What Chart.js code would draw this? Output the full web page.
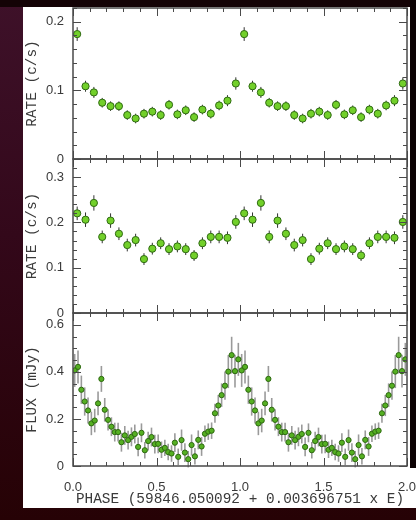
<!DOCTYPE html>
<html>
<head>
<meta charset="utf-8">
<script src="https://cdn.jsdelivr.net/npm/chart.js@4/dist/chart.umd.min.js"></script>
<style>
  html, body { margin: 0; padding: 0; }
  body {
    width: 416px; height: 520px; position: relative; overflow: hidden;
    background: linear-gradient(to bottom, #3e1129 0%, #33081a 45%, #260205 100%);
  }
  #topband { position: absolute; left: 0; top: 0; width: 416px; height: 7px; background: #140306; }
  #paper { position: absolute; left: 23px; top: 7px; width: 393px; height: 501px; background: #fff; }
  #rightband { position: absolute; left: 410px; top: 0; width: 6px; height: 468px; background: #0c0203; }
  canvas { position: absolute; left: 23px; }
</style>
</head>
<body>
<div id="topband"></div>
<div id="paper"></div>
<div id="rightband"></div>
<canvas id="rate1" width="393" height="170" style="top:0px"></canvas>
<canvas id="rate2" width="393" height="170" style="top:150px"></canvas>
<canvas id="flux" width="393" height="215" style="top:305px"></canvas>
<script>
    // one cycle of each folded light curve, plotted twice (phase 0-1 and 1-2)
    const ratePhase = [0.025, 0.075, 0.125, 0.175, 0.225, 0.275, 0.325, 0.375, 0.425, 0.475,
                       0.525, 0.575, 0.625, 0.675, 0.725, 0.775, 0.825, 0.875, 0.925, 0.975];
    const rateTop = [0.182, 0.106, 0.097, 0.082, 0.077, 0.077, 0.064, 0.059, 0.066, 0.069,
                     0.064, 0.079, 0.065, 0.071, 0.061, 0.072, 0.066, 0.078, 0.085, 0.110];
    const rateTopErr = [0.010, 0.008, 0.008, 0.007, 0.007, 0.007, 0.007, 0.007, 0.007, 0.007,
                        0.007, 0.007, 0.007, 0.007, 0.007, 0.007, 0.007, 0.007, 0.008, 0.009];
    const rateMid = [0.220, 0.206, 0.243, 0.168, 0.204, 0.175, 0.150, 0.161, 0.119, 0.142,
                     0.154, 0.141, 0.147, 0.141, 0.127, 0.154, 0.168, 0.168, 0.166, 0.201];
    const rateMidErr = [0.015, 0.016, 0.017, 0.014, 0.016, 0.014, 0.014, 0.014, 0.013, 0.013,
                        0.013, 0.013, 0.013, 0.013, 0.012, 0.013, 0.014, 0.014, 0.014, 0.015];

    const fluxPhase = [0.01, 0.03, 0.05, 0.07, 0.09, 0.11, 0.13, 0.15, 0.17, 0.19,
                       0.21, 0.23, 0.25, 0.27, 0.29, 0.31, 0.33, 0.35, 0.37, 0.39,
                       0.41, 0.43, 0.45, 0.47, 0.49, 0.51, 0.53, 0.55, 0.57, 0.59,
                       0.61, 0.63, 0.65, 0.67, 0.69, 0.71, 0.73, 0.75, 0.77, 0.79,
                       0.81, 0.83, 0.85, 0.87, 0.89, 0.91, 0.93, 0.95, 0.97, 0.99];
    const flux = [0.406, 0.421, 0.324, 0.274, 0.236, 0.181, 0.193, 0.266, 0.370, 0.239,
                  0.196, 0.167, 0.144, 0.144, 0.101, 0.130, 0.110, 0.124, 0.136, 0.081,
                  0.141, 0.067, 0.106, 0.123, 0.093, 0.094, 0.069, 0.077, 0.059, 0.053,
                  0.099, 0.039, 0.110, 0.057, 0.029, 0.089, 0.041, 0.111, 0.083, 0.137,
                  0.146, 0.150, 0.224, 0.257, 0.301, 0.341, 0.401, 0.471, 0.403, 0.453];
    const fluxErr = [0.070, 0.070, 0.060, 0.060, 0.055, 0.050, 0.050, 0.050, 0.055, 0.050,
                     0.045, 0.040, 0.040, 0.040, 0.040, 0.040, 0.040, 0.040, 0.040, 0.040,
                     0.040, 0.035, 0.040, 0.040, 0.040, 0.040, 0.035, 0.035, 0.035, 0.035,
                     0.040, 0.035, 0.045, 0.040, 0.035, 0.045, 0.035, 0.040, 0.040, 0.035,
                     0.035, 0.035, 0.040, 0.045, 0.050, 0.060, 0.070, 0.078, 0.070, 0.070];

    const phaseTicks = [0, 0.5, 1.0, 1.5, 2.0];
    const xTitle = 'PHASE (59846.050092 + 0.003696751 x E)';

    // repeat the folded cycle at phase + 1
    function twoCycles(phase, values, errors) {
        const pts = [];
        [0, 1].forEach(offset => {
            phase.forEach((p, i) => pts.push({ x: p + offset, y: values[i], err: errors[i] }));
        });
        return pts;
    }

    const titleFont = { family: 'Liberation Mono', size: 14.4 };
    const tickFont = { family: 'Liberation Sans', size: 13 };
    const inkColor = '#3a3a3a';

    // vertical error bars under the markers, then frame + inward ticks on all sides
    const framePlugin = {
        id: 'frame',
        beforeDatasetsDraw(chart, args, opts) {
            const ctx = chart.ctx;
            const xs = chart.scales.x, ys = chart.scales.y;
            ctx.save();
            ctx.strokeStyle = opts.errColor;
            ctx.lineWidth = opts.errWidth;
            chart.data.datasets[0].data.forEach(pt => {
                const px = xs.getPixelForValue(pt.x);
                ctx.beginPath();
                ctx.moveTo(px, ys.getPixelForValue(pt.y - pt.err));
                ctx.lineTo(px, ys.getPixelForValue(pt.y + pt.err));
                ctx.stroke();
            });
            ctx.restore();
        },
        afterDatasetsDraw(chart, args, opts) {
            const ctx = chart.ctx;
            const a = chart.chartArea;
            const xs = chart.scales.x, ys = chart.scales.y;
            ctx.save();
            ctx.strokeStyle = '#4a4a4a';
            ctx.lineWidth = 1;
            for (let i = 0; i <= 20; i++) {
                const px = Math.round(xs.getPixelForValue(i / 10)) + 0.5;
                const len = i % 5 === 0 ? 8 : 4;
                ctx.beginPath();
                ctx.moveTo(px, a.top); ctx.lineTo(px, a.top + len);
                ctx.moveTo(px, a.bottom); ctx.lineTo(px, a.bottom - len);
                ctx.stroke();
            }
            const n = Math.floor(opts.yMax / opts.minorY + 1e-6);
            const ratio = Math.round(opts.majorY / opts.minorY);
            for (let i = 0; i <= n; i++) {
                const py = Math.round(ys.getPixelForValue(i * opts.minorY)) + 0.5;
                const len = i % ratio === 0 ? 8 : 4;
                ctx.beginPath();
                ctx.moveTo(a.left, py); ctx.lineTo(a.left + len, py);
                ctx.moveTo(a.right, py); ctx.lineTo(a.right - len, py);
                ctx.stroke();
            }
            ctx.lineWidth = 1.5;
            ctx.strokeRect(a.left, a.top, a.right - a.left, a.bottom - a.top);
            ctx.restore();
        }
    };

    function makePanel(id, cfg) {
        return new Chart(document.getElementById(id), {
            type: 'scatter',
            data: {
                datasets: [{
                    data: cfg.points,
                    pointRadius: cfg.radius,
                    pointHoverRadius: cfg.radius,
                    backgroundColor: cfg.fill,
                    borderColor: cfg.edge,
                    borderWidth: 1
                }]
            },
            plugins: [framePlugin],
            options: {
                responsive: false,
                animation: false,
                devicePixelRatio: 1,
                layout: { padding: cfg.padding },
                plugins: {
                    legend: { display: false },
                    tooltip: { enabled: false },
                    frame: { yMax: cfg.yMax, minorY: cfg.minorY, majorY: cfg.majorY, errColor: cfg.errColor, errWidth: cfg.errWidth }
                },
                scales: {
                    x: {
                        type: 'linear',
                        min: 0,
                        max: 2,
                        display: cfg.showX,
                        grid: { display: false },
                        border: { display: false },
                        afterBuildTicks: scale => { scale.ticks = phaseTicks.map(v => ({ value: v })); },
                        ticks: {
                            callback: v => v.toFixed(1),
                            font: tickFont,
                            color: inkColor,
                            padding: 6,
                            maxRotation: 0
                        },
                        title: {
                            display: true,
                            text: xTitle,
                            font: titleFont,
                            color: inkColor,
                            padding: { top: 0, bottom: 2 }
                        },
                        afterFit: scale => {
                            scale.height = cfg.showX ? 44 : 0;
                            scale.paddingLeft = 0;
                            scale.paddingRight = 0;
                        }
                    },
                    y: {
                        min: 0,
                        max: cfg.yMax,
                        grid: { display: false, drawTicks: false },
                        border: { display: false },
                        ticks: {
                            stepSize: cfg.majorY,
                            includeBounds: false,
                            callback: v => (v === 0 ? '0' : v.toFixed(1)),
                            font: tickFont,
                            color: inkColor,
                            padding: 9
                        },
                        title: {
                            display: true,
                            text: cfg.yTitle,
                            font: titleFont,
                            color: inkColor,
                            padding: { top: 1, bottom: 0 }
                        },
                        afterFit: scale => {
                            scale.width = 50;
                            scale.paddingTop = 0;
                            scale.paddingBottom = 0;
                        }
                    }
                }
            }
        });
    }

    makePanel('rate1', {
        points: twoCycles(ratePhase, rateTop, rateTopErr),
        yMax: 0.22, majorY: 0.1, minorY: 0.02, yTitle: 'RATE (c/s)',
        showX: false, padding: { top: 8, bottom: 11, right: 9, left: 0 },
        radius: 3.6, fill: '#72d02a', edge: '#2f6a12', errColor: '#333', errWidth: 1
    });

    makePanel('rate2', {
        points: twoCycles(ratePhase, rateMid, rateMidErr),
        yMax: 0.34, majorY: 0.1, minorY: 0.02, yTitle: 'RATE (c/s)',
        showX: false, padding: { top: 9, bottom: 7, right: 9, left: 0 },
        radius: 3.6, fill: '#72d02a', edge: '#2f6a12', errColor: '#333', errWidth: 1
    });

    makePanel('flux', {
        points: twoCycles(fluxPhase, flux, fluxErr),
        yMax: 0.65, majorY: 0.2, minorY: 0.05, yTitle: 'FLUX (mJy)',
        showX: true, padding: { top: 8, bottom: 10, right: 9, left: 0 },
        radius: 2.6, fill: '#55b022', edge: '#2d6810', errColor: '#9a9a9a', errWidth: 1.6
    });
</script>
</body>
</html>
